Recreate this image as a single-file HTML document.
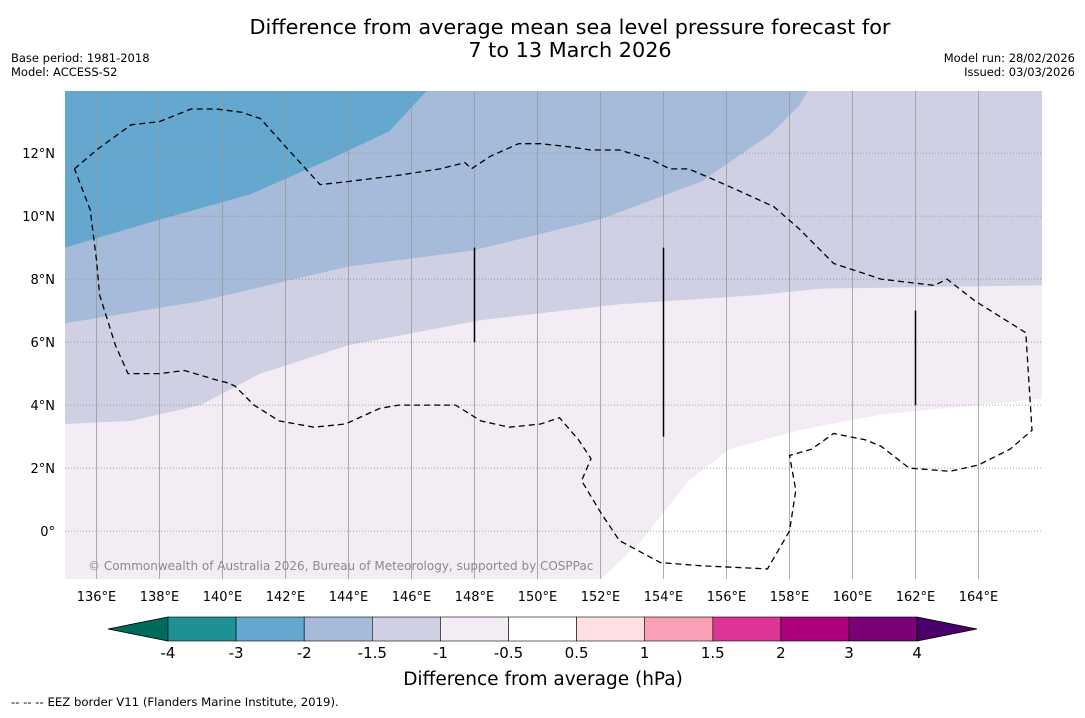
<!DOCTYPE html>
<html><head><meta charset="utf-8"><style>
body{margin:0;background:#fff;font-family:"Liberation Sans","DejaVu Sans",sans-serif;}
svg text{font-family:"DejaVu Sans","Liberation Sans",sans-serif;}
</style></head><body>
<svg id="c" width="1085" height="713" xmlns="http://www.w3.org/2000/svg">
<text x="570" y="34" font-size="20.8" text-anchor="middle">Difference from average mean sea level pressure forecast for</text>
<text x="570" y="57" font-size="20.8" text-anchor="middle">7 to 13 March 2026</text>
<text x="11" y="62" font-size="11.5">Base period: 1981-2018</text>
<text x="11" y="76" font-size="11.5">Model: ACCESS-S2</text>
<text x="1075" y="62" font-size="11.5" text-anchor="end">Model run: 28/02/2026</text>
<text x="1075" y="76" font-size="11.5" text-anchor="end">Issued: 03/03/2026</text>
<g id="map"></g>
<g id="cbar"></g>
<text x="543" y="685" font-size="18.5" text-anchor="middle">Difference from average (hPa)</text>
<text x="11" y="706" font-size="11.7">--  --  -- EEZ border V11 (Flanders Marine Institute, 2019).</text>
</svg>
<script>
const lonTicks=[136,138,140,142,144,146,148,150,152,154,156,158,160,162,164];
const latTicks=[0,2,4,6,8,10,12];
const contourM3=[[135,9.0],[137.7,9.8],[140.9,10.7],[143.4,11.8],[145.3,12.7],[146.5,14]];
const contourM2=[[135,6.6],[139.3,7.3],[144,8.4],[147.9,8.9],[152,9.9],[155.2,11.1],[157.4,12.6],[158.3,13.5],[158.6,14]];
const contourM15=[[135,3.4],[137.1,3.5],[139.3,4.0],[141.2,5.0],[144,5.9],[148.2,6.7],[152.6,7.2],[157.1,7.5],[159,7.7],[166,7.8]];
const contourM1=[[152,-1.55],[153.3,-0.3],[154.8,1.6],[156.1,2.6],[158.3,3.2],[160.9,3.7],[166,4.2]];
const eez=[[135.3,11.5],[136,12.1],[137.1,12.9],[138,13],[139,13.4],[139.8,13.4],[140.6,13.3],[141.2,13.1],[142.1,12.1],[143.1,11],[144,11.1],[145.6,11.3],[146.9,11.5],[147.7,11.7],[147.9,11.5],[148.5,11.9],[149.4,12.3],[150.1,12.3],[151,12.2],[151.7,12.1],[152.6,12.1],[153.6,11.8],[154.2,11.5],[154.8,11.5],[155.5,11.2],[156.4,10.8],[157.5,10.3],[158.3,9.6],[159.4,8.5],[160.9,8],[162.6,7.8],[163,8],[163.9,7.3],[165.5,6.3],[165.7,3.2],[165,2.6],[164,2.1],[163.1,1.9],[161.8,2],[160.9,2.7],[160.4,2.9],[159.4,3.1],[158.7,2.6],[158,2.4],[158.2,1.3],[158,0],[157.3,-1.2],[155.2,-1.1],[153.9,-1],[152.6,-0.3],[152,0.6],[151.4,1.6],[151.7,2.3],[151.3,2.9],[150.7,3.6],[150.1,3.4],[149.1,3.3],[148.2,3.5],[147.4,4],[146.3,4],[145.6,4],[145,3.9],[143.9,3.4],[142.9,3.3],[141.8,3.5],[141,4],[140.4,4.6],[140.2,4.7],[139.8,4.8],[138.8,5.1],[138,5],[137,5],[136.6,5.9],[136.1,7.5],[136,8.6],[135.8,10.2],[135.3,11.5]];
const segLon=[148,154,162];
const segLat1=[9,9,7];
const segLat2=[6,3,4];
const cbLabels=["-4","-3","-2","-1.5","-1","-0.5","0.5","1","1.5","2","3","4"];
const cbColors=["#1f9096","#64a8cf","#a6bad9","#d0d0e4","#f4ecf5","#ffffff","#fee0e0","#f9a0b4","#dd3497","#ae017e","#7a0177"];
const ns="http://www.w3.org/2000/svg";
const L=65,R=1042,T=91,B=579,lon0=135,lat0=-1.52,ppd=31.5;
const X=lon=>L+(lon-lon0)*ppd, Y=lat=>B-(lat-lat0)*ppd;
function mk(tag,attrs,parent){const e=document.createElementNS(ns,tag);for(const k in attrs)e.setAttribute(k,attrs[k]);parent.appendChild(e);return e;}
const map=document.getElementById('map');
const defs=mk('defs',{},map);const cp=mk('clipPath',{id:'clip'},defs);mk('rect',{x:L,y:T,width:R-L,height:B-T},cp);
const g=mk('g',{'clip-path':'url(#clip)'},map);
let bg=mk('rect',{x:L,y:T,width:R-L,height:B-T,fill:'#f4ecf5'},g);


const pts=a=>a.map(p=>X(p[0]).toFixed(1)+','+Y(p[1]).toFixed(1)).join(' ');
function region(arr,extra,fill,name){const p=mk('polygon',{points:pts(arr.concat(extra)),fill:fill},g);

}
region(contourM15,[[167,15],[134,15]],'#d0d0e4','region-minus1.5');
region(contourM2,[[134,15]],'#a6bad9','region-minus2');
region(contourM3,[[134,15]],'#64a8cf','region-minus3');
region(contourM1,[[167,-3],[152,-3]],'#ffffff','region-near-zero');
lonTicks.forEach(v=>{const l=mk('line',{x1:X(v),x2:X(v),y1:T,y2:B,stroke:'#999','stroke-width':0.8},g);


const t=mk('text',{x:X(v),y:601,'font-size':13,'text-anchor':'middle'},map);t.textContent=v+'°E';

});
latTicks.forEach(v=>{const l=mk('line',{x1:L,x2:R,y1:Y(v),y2:Y(v),stroke:'#888','stroke-width':0.8,'stroke-dasharray':'1,2'},g);


const t=mk('text',{x:55,y:Y(v)+5,'font-size':13,'text-anchor':'end'},map);t.textContent=v===0?'0°':v+'°N';

});
const ez=mk('polyline',{points:pts(eez),fill:'none',stroke:'#000','stroke-width':1.3,'stroke-dasharray':'6,4'},g);


segLon.forEach((v,i)=>{const l=mk('line',{x1:X(v),x2:X(v),y1:Y(segLat1[i]),y2:Y(segLat2[i]),stroke:'#000','stroke-width':1.5},g);

});
const cr=mk('text',{x:88,y:570,'font-size':12,fill:'#8a8a8a'},g);cr.textContent='© Commonwealth of Australia 2026, Bureau of Meteorology, supported by COSPPac';


const cb=document.getElementById('cbar');
const cx0=168,cw=68.1,cy=617,ch=24;
let tl=mk('polygon',{points:`108,${cy+ch/2} ${cx0},${cy} ${cx0},${cy+ch}`,fill:'#006b5c',stroke:'#000','stroke-width':0.8},cb);


cbColors.forEach((c,i)=>{const r=mk('rect',{x:cx0+i*cw,y:cy,width:cw,height:ch,fill:c,stroke:'#000','stroke-width':0.6},cb);

});
const xe=cx0+cbColors.length*cw;
let tr=mk('polygon',{points:`${xe},${cy} 977,${cy+ch/2} ${xe},${cy+ch}`,fill:'#49006a',stroke:'#000','stroke-width':0.8},cb);


cbLabels.forEach((s,i)=>{const t=mk('text',{x:cx0+i*cw,y:658,'font-size':15,'text-anchor':'middle'},cb);t.textContent=s;

});
</script>
</body></html>
